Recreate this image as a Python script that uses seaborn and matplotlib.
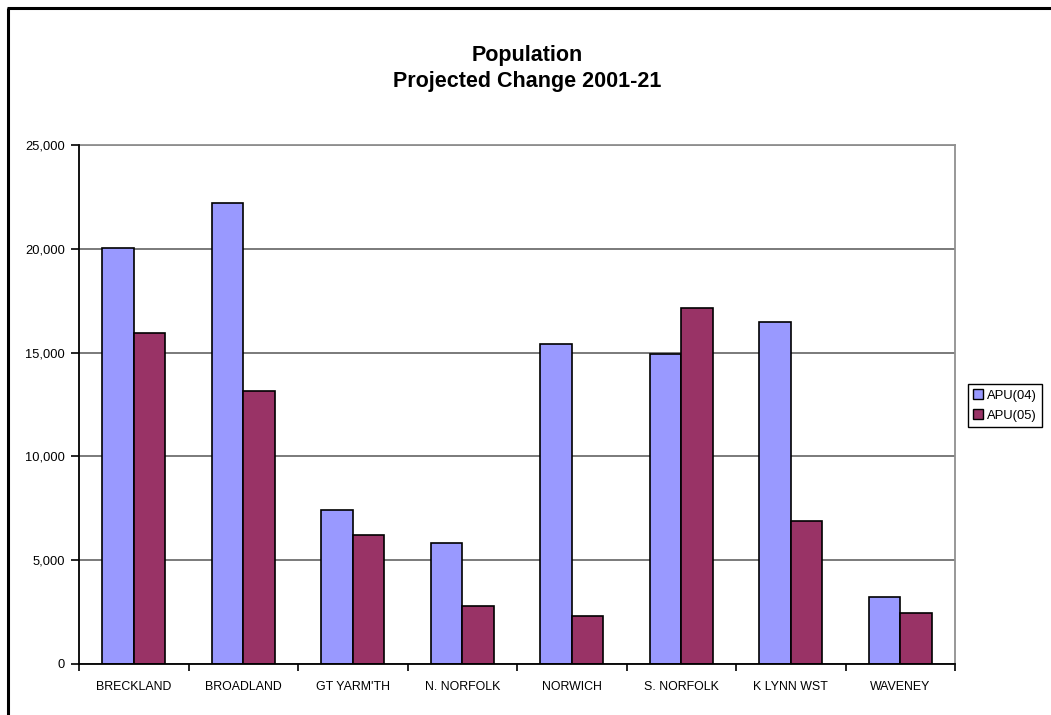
import matplotlib
matplotlib.use("Agg")
import matplotlib.pyplot as plt
from matplotlib.lines import Line2D
from matplotlib.ticker import FuncFormatter, FixedLocator
import numpy as np
import pandas as pd
import seaborn as sns

districts = ["BRECKLAND", "BROADLAND", "GT YARM'TH", "N. NORFOLK", "NORWICH",
             "S. NORFOLK", "K LYNN WST", "WAVENEY"]
apu04 = [20050, 22200, 7400, 5850, 15400, 14950, 16450, 3250]
apu05 = [15950, 13150, 6200, 2780, 2300, 17150, 6870, 2460]
series_names = ["APU(04)", "APU(05)"]
series_colors = ["#9999FF", "#993366"]

df = pd.DataFrame({
    "district": districts * 2,
    "series": [series_names[0]] * len(districts) + [series_names[1]] * len(districts),
    "change": apu04 + apu05,
})

sns.set_theme(style="white")
plt.rcParams["font.family"] = ["Liberation Sans", "DejaVu Sans"]
plt.rcParams["text.color"] = "black"
plt.rcParams["xtick.color"] = "black"
plt.rcParams["ytick.color"] = "black"
plt.rcParams["axes.labelcolor"] = "black"

fig = plt.figure(figsize=(10.51, 7.15), dpi=100)
ax = fig.add_axes([79 / 1051, 1 - 664 / 715, (955 - 79) / 1051, (664 - 145) / 715])

sns.barplot(data=df, x="district", y="change", hue="series", order=districts,
            hue_order=series_names, palette=series_colors, width=0.572,
            edgecolor="black", linewidth=1.2, saturation=1, errorbar=None,
            ax=ax, legend=True, zorder=3)

ax.set_xlim(-0.5, len(districts) - 0.5)
ax.set_ylim(0, 25000)
ax.set_yticks(np.arange(0, 25001, 5000))
ax.yaxis.set_major_formatter(FuncFormatter(lambda v, p: f"{int(v):,}"))
ax.yaxis.grid(True, color="#707070", linewidth=1.3, zorder=0)
ax.set_axisbelow(True)
ax.set_xlabel("")
ax.set_ylabel("")

# category labels without ticks, boundary ticks between groups
ax.tick_params(axis="x", which="major", length=0, pad=12, labelsize=8.9, labelcolor="black")
ax.xaxis.set_minor_locator(FixedLocator(np.arange(-0.5, len(districts), 1.0)))
ax.tick_params(axis="x", which="minor", length=5, width=1.2, color="black", bottom=True)
ax.tick_params(axis="y", which="major", left=True, length=6, width=1.2, color="black",
               labelsize=9.3, pad=4, labelcolor="black")

for side in ["left", "bottom"]:
    ax.spines[side].set_color("black")
    ax.spines[side].set_linewidth(1.3)
for side in ["top", "right"]:
    ax.spines[side].set_color("#909090")
    ax.spines[side].set_linewidth(1.3)
ax.spines["left"].set_zorder(4)
ax.spines["bottom"].set_zorder(4)

leg = ax.legend(loc="center left", bbox_to_anchor=(968 / 1051, 1 - 405.5 / 715),
                bbox_transform=fig.transFigure, frameon=True, fancybox=False,
                edgecolor="black", framealpha=1, fontsize=9.4,
                handlelength=0.75, handleheight=0.75, handletextpad=0.3,
                borderpad=0.4, labelspacing=0.6, borderaxespad=0)
leg.get_frame().set_linewidth(1.0)
for h in leg.legend_handles:
    h.set_edgecolor("black")
    h.set_linewidth(1.0)
for t in leg.get_texts():
    t.set_color("black")

fig.text(527 / 1051, 1 - 56 / 715, "Population", ha="center", va="center",
         fontsize=15.5, fontweight="bold", color="black")
fig.text(527 / 1051, 1 - 82 / 715, "Projected Change 2001-21", ha="center", va="center",
         fontsize=15.5, fontweight="bold", color="black")

# outer chart frame
fig.add_artist(Line2D([8 / 1051, 8 / 1051], [0, 1 - 8 / 715], transform=fig.transFigure,
                      color="black", linewidth=2.2, solid_capstyle="butt"))
fig.add_artist(Line2D([7 / 1051, 1], [1 - 8 / 715, 1 - 8 / 715], transform=fig.transFigure,
                      color="black", linewidth=2.2, solid_capstyle="butt"))

fig.savefig("out.png", dpi=100, facecolor="white")
